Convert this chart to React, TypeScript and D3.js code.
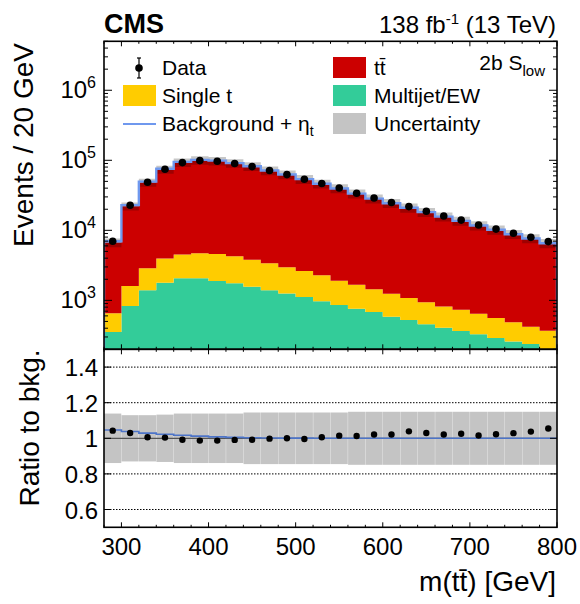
import * as d3 from "d3";

// bin edges of m(tt) in GeV
const binEdges = [280, 300, 320, 340, 360, 380, 400, 420, 440, 460, 480, 500, 520, 540, 560, 580, 600, 620, 640, 660, 680, 700, 720, 740, 760, 780, 800];

// events per bin
const dataCounts = [6970, 22750, 48500, 74300, 92700, 99000, 96800, 89800, 81300, 71300, 62500, 53500, 46500, 40200, 33800, 28900, 24900, 21800, 18700, 16000, 14000, 11900, 10400, 9060, 7940, 6900];
const ttbar = [6030, 20490, 45350, 70060, 88950, 95610, 93500, 86370, 78150, 68060, 59540, 51090, 43950, 37700, 31690, 26870, 23140, 19900, 17220, 14850, 12910, 11070, 9610, 8320, 7230, 6170];
const singleT = [299, 770, 1475, 2155, 2440, 2630, 2690, 2500, 2240, 1990, 1710, 1505, 1310, 1050, 916, 755, 662, 556, 482, 413, 372, 319, 269, 226, 183, 179];
const multijet = [353, 830, 1390, 1790, 2060, 2060, 1890, 1750, 1570, 1390, 1250, 1115, 967, 857, 760, 681, 585, 524, 454, 407, 364, 327, 289, 259, 238, 190];
const etaT = [314, 840, 1400, 1700, 1590, 1200, 785, 450, 250, 140, 60, 50, 30, 20, 15, 10, 8, 6, 5, 4, 3, 3, 2, 2, 2, 1];
// relative background uncertainty
const relUnc = [0.139, 0.13, 0.13, 0.133, 0.139, 0.139, 0.139, 0.139, 0.145, 0.145, 0.145, 0.145, 0.145, 0.145, 0.149, 0.149, 0.149, 0.149, 0.149, 0.149, 0.149, 0.149, 0.149, 0.149, 0.149, 0.149];

const xTicks = [300, 400, 500, 600, 700, 800];
const ratioTicks = [0.6, 0.8, 1, 1.2, 1.4];
const ratioGrid = [0.6, 0.8, 1.2, 1.4];

const FONT = "Liberation Sans, Arial, Helvetica, sans-serif";
const C_TT = "#cc0000";
const C_ST = "#ffcc00";
const C_MJ = "#33cc99";
const C_SIG = "#6f98ee";

const L = 104, R = 557, T = 41.3, MID = 349.3, B = 527.3;

const x = d3.scaleLinear().domain([280, 800]).range([L, R]);
const y = d3.scaleLog().domain([200, 5e6]).range([MID, T]).clamp(true);
const yr = d3.scaleLinear().domain([0.5, 1.5]).range([B, MID]);

const bins = d3.range(dataCounts.length).map((i) => ({
  lo: binEdges[i],
  hi: binEdges[i + 1],
  mj: multijet[i],
  st: singleT[i],
  tt: ttbar[i],
}));
const bkg = bins.map((b) => b.mj + b.st + b.tt);

// step path helper: values per bin -> [edge, value] pairs
const steps = (vals: number[]) =>
  vals.flatMap((v, i) => [
    [binEdges[i], v],
    [binEdges[i + 1], v],
  ]);

const stack = d3.stack<any>().keys(["mj", "st", "tt"])(bins);
const stackColors = [C_MJ, C_ST, C_TT];

const areaUp = d3
  .area<any>()
  .x((d) => x(d.e))
  .y0((d) => y(Math.max(d.lo, 1)))
  .y1((d) => y(d.hi));

const layerPath = (layer: any) =>
  areaUp(
    layer.flatMap((d: any, i: number) => [
      { e: binEdges[i], lo: d[0], hi: d[1] },
      { e: binEdges[i + 1], lo: d[0], hi: d[1] },
    ])
  );

const bandPath = areaUp(
  bkg.flatMap((v, i) => [
    { e: binEdges[i], lo: v * (1 - relUnc[i]), hi: v * (1 + relUnc[i]) },
    { e: binEdges[i + 1], lo: v * (1 - relUnc[i]), hi: v * (1 + relUnc[i]) },
  ])
);

const sigLine = d3
  .line<number[]>()
  .x((d) => x(d[0]))
  .y((d) => y(d[1]));
const sigPts = [[280, 1], ...steps(bkg.map((v, i) => v + etaT[i])), [800, 1]];

const ratioLine = d3
  .line<number[]>()
  .x((d) => x(d[0]))
  .y((d) => yr(d[1]));
const sigRatioPts = steps(bkg.map((v, i) => (v + etaT[i]) / v));

const logTicks = y.ticks();
const minorX = d3.range(280, 801, 20);

function Ticks({ top, bottom }: { top: number; bottom: number }) {
  return (
    <g stroke="#000" strokeWidth={1}>
      {minorX.map((v) => {
        const major = v % 100 === 0;
        const len = major ? 5 : 2.5;
        return (
          <g key={v}>
            <line x1={x(v)} x2={x(v)} y1={bottom} y2={bottom - len} />
            <line x1={x(v)} x2={x(v)} y1={top} y2={top + len} />
          </g>
        );
      })}
    </g>
  );
}

export default function App() {
  return (
    <svg
      width={580}
      height={604}
      style={{ position: "absolute", left: 0, top: 0, background: "#fff" }}
      fontFamily={FONT}
    >
      <defs>
        <clipPath id="clipUp">
          <rect x={L} y={T} width={R - L} height={MID - T} />
        </clipPath>
        <clipPath id="clipRat">
          <rect x={L} y={MID} width={R - L} height={B - MID} />
        </clipPath>
      </defs>
      <rect width={580} height={604} fill="#fff" />

      {/* upper panel */}
      <g clipPath="url(#clipUp)">
        {stack.map((layer, k) => (
          <path key={k} d={layerPath(layer) || ""} fill={stackColors[k]} />
        ))}
        <path d={bandPath || ""} fill="#000" fillOpacity={0.22} />
        <path d={sigLine(sigPts) || ""} fill="none" stroke={C_SIG} strokeWidth={2.4} />
        {dataCounts.map((v, i) => (
          <circle key={i} cx={x((binEdges[i] + binEdges[i + 1]) / 2)} cy={y(v)} r={3.8} fill="#000" />
        ))}
      </g>

      {/* log axis ticks */}
      <g stroke="#000" strokeWidth={1}>
        {logTicks.map((v, i) => {
          const major = Math.abs(Math.log10(v) - Math.round(Math.log10(v))) < 1e-9;
          const len = major ? 8 : 4;
          return (
            <g key={i}>
              <line x1={L} x2={L + len} y1={y(v)} y2={y(v)} />
              <line x1={R} x2={R - len} y1={y(v)} y2={y(v)} />
            </g>
          );
        })}
      </g>
      <Ticks top={T} bottom={MID} />
      {logTicks
        .filter((v) => Math.abs(Math.log10(v) - Math.round(Math.log10(v))) < 1e-9)
        .map((v) => (
          <text key={v} x={96} y={y(v) + 8} textAnchor="end" fontSize={24}>
            10
            <tspan fontSize={16} dy={-10}>
              {Math.round(Math.log10(v))}
            </tspan>
          </text>
        ))}
      <rect x={L} y={T} width={R - L} height={MID - T} fill="none" stroke="#000" strokeWidth={1.6} />

      {/* ratio panel */}
      <g clipPath="url(#clipRat)">
        {ratioGrid.map((v) => (
          <line key={v} x1={L} x2={R} y1={yr(v)} y2={yr(v)} stroke="#000" strokeWidth={1} strokeDasharray="1.5,1.5" />
        ))}
        {bkg.map((v, i) => (
          <rect
            key={i}
            x={x(binEdges[i]) + 0.15}
            width={x(binEdges[i + 1]) - x(binEdges[i]) - 0.3}
            y={yr(1 + relUnc[i])}
            height={yr(1 - relUnc[i]) - yr(1 + relUnc[i])}
            fill="#000"
            fillOpacity={0.23}
          />
        ))}
        <line x1={L} x2={R} y1={yr(1)} y2={yr(1)} stroke="#555" strokeWidth={1.2} />
        <path d={ratioLine(sigRatioPts) || ""} fill="none" stroke="#4d74c8" strokeWidth={1.6} />
        {dataCounts.map((v, i) => (
          <circle key={i} cx={x((binEdges[i] + binEdges[i + 1]) / 2)} cy={yr(v / bkg[i])} r={3.2} fill="#000" />
        ))}
      </g>
      <g stroke="#000" strokeWidth={1}>
        {ratioTicks.map((v) => (
          <g key={v}>
            <line x1={L} x2={L + 7} y1={yr(v)} y2={yr(v)} />
            <line x1={R} x2={R - 7} y1={yr(v)} y2={yr(v)} />
          </g>
        ))}
      </g>
      <Ticks top={MID} bottom={B} />
      {ratioTicks.map((v) => (
        <text key={v} x={98} y={yr(v) + 9} textAnchor="end" fontSize={24}>
          {String(v)}
        </text>
      ))}
      <rect x={L} y={MID} width={R - L} height={B - MID} fill="none" stroke="#000" strokeWidth={1.6} />

      {/* x axis labels */}
      {xTicks.map((v) => (
        <text key={v} x={x(v)} y={555} textAnchor="middle" fontSize={24}>
          {v}
        </text>
      ))}
      <text x={556} y={591} textAnchor="end" fontSize={28}>
        m(t{"t\u0304"}) [GeV]
      </text>

      {/* axis titles */}
      <text transform="translate(33,145) rotate(-90)" textAnchor="middle" fontSize={28}>
        Events / 20 GeV
      </text>
      <text transform="translate(39,428) rotate(-90)" textAnchor="middle" fontSize={28}>
        Ratio to bkg.
      </text>

      {/* header */}
      <text x={104} y={33} fontSize={27} fontWeight="bold">
        CMS
      </text>
      <text x={556} y={33} textAnchor="end" fontSize={24}>
        138 fb
        <tspan fontSize={15} dy={-9}>
          -1
        </tspan>
        <tspan dy={9}> (13 TeV)</tspan>
      </text>
      <text x={545} y={70} textAnchor="end" fontSize={21}>
        2b S
        <tspan fontSize={15} dy={6}>
          low
        </tspan>
      </text>

      {/* legend */}
      <g fontSize={21}>
        <line x1={139} x2={139} y1={58} y2={78} stroke="#000" strokeWidth={1.2} />
        <line x1={137} x2={141} y1={58} y2={58} stroke="#000" strokeWidth={1.2} />
        <line x1={137} x2={141} y1={78} y2={78} stroke="#000" strokeWidth={1.2} />
        <circle cx={139} cy={68} r={3.8} fill="#000" />
        <text x={162} y={75}>Data</text>

        <rect x={123} y={85} width={33} height={21} fill={C_ST} />
        <text x={162} y={103}>Single t</text>

        <line x1={123} x2={156} y1={124} y2={124} stroke={C_SIG} strokeWidth={2} />
        <text x={162} y={131}>
          Background + η
          <tspan fontSize={14} dy={5}>
            t
          </tspan>
        </text>

        <rect x={333} y={57} width={33} height={21} fill={C_TT} />
        <text x={374} y={75}>t{"t\u0304"}</text>

        <rect x={333} y={85} width={33} height={21} fill={C_MJ} />
        <text x={374} y={103}>Multijet/EW</text>

        <rect x={333} y={113} width={33} height={21} fill="#000" fillOpacity={0.23} />
        <text x={374} y={131}>Uncertainty</text>
      </g>
    </svg>
  );
}
